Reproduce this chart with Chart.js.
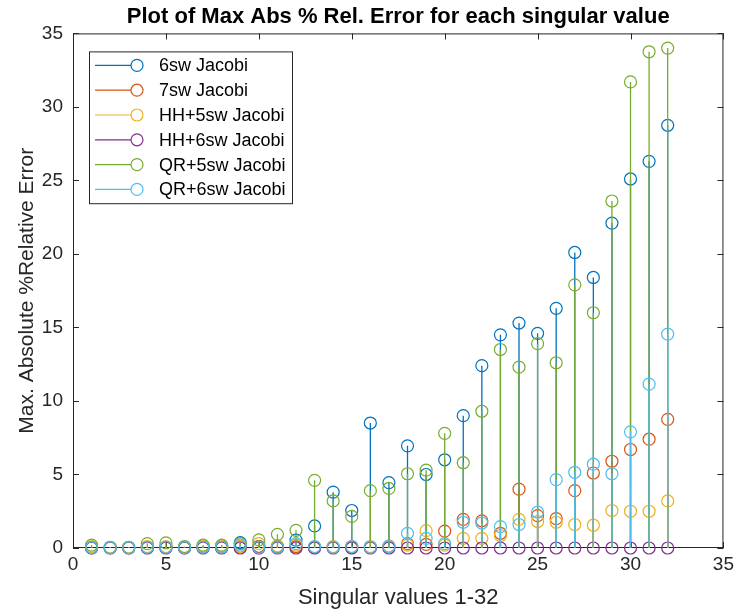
<!DOCTYPE html>
<html>
<head>
<meta charset="utf-8">
<script src="https://cdn.jsdelivr.net/npm/chart.js@4/dist/chart.umd.min.js"></script>
<style>
  body { margin: 0; background: #fff; }
</style>
</head>
<body>
<canvas id="stemChart" width="739" height="611"></canvas>
<script>
// singular value index 1..32
const singularIdx = [1, 2, 3, 4, 5, 6, 7, 8, 9, 10, 11, 12, 13, 14, 15, 16,
                     17, 18, 19, 20, 21, 22, 23, 24, 25, 26, 27, 28, 29, 30, 31, 32];

// max abs % relative error
const jacobi6sw   = [0.02, 0.02, 0.03, 0.05, 0.05, 0.03, 0.05, 0.05, 0.36, 0.1, 0.1, 0.54, 1.5, 3.8, 2.55, 8.5,
                     4.45, 6.95, 5.0, 6.0, 9.0, 12.4, 14.5, 15.3, 14.6, 16.3, 20.1, 18.4, 22.1, 25.1, 26.3, 28.75];
const jacobi7sw   = [0.02, 0.02, 0.02, 0.05, 0.05, 0.02, 0.05, 0.05, 0.1, 0.1, 0.05, 0.1, 0.05, 0.05, 0.05, 0.05,
                     0.1, 0.3, 0.25, 1.15, 1.95, 1.85, 1.0, 4.0, 2.2, 2.0, 3.9, 5.1, 5.9, 6.7, 7.4, 8.75];
const hh5swJacobi = [0.1, 0.05, 0.05, 0.1, 0.1, 0.05, 0.15, 0.15, 0.1, 0.3, 0.15, 0.2, 0.05, 0.1, 0.1, 0.1,
                     0.15, 0.2, 1.18, 0.2, 0.66, 0.66, 0.85, 1.95, 1.8, 1.75, 1.6, 1.55, 2.55, 2.5, 2.5, 3.2];
const hh6swJacobi = [0, 0, 0, 0, 0, 0, 0, 0, 0, 0, 0, 0, 0, 0, 0, 0,
                     0, 0, 0, 0, 0, 0, 0, 0, 0, 0, 0, 0, 0, 0, 0, 0];
const qr5swJacobi = [0.2, 0.05, 0.05, 0.3, 0.35, 0.1, 0.2, 0.2, 0.3, 0.55, 0.93, 1.2, 4.6, 3.2, 2.15, 3.9,
                     4.05, 5.05, 5.3, 7.8, 5.8, 9.3, 13.5, 12.3, 13.9, 12.6, 17.9, 16.0, 23.6, 31.7, 33.75, 34.0];
const qr6swJacobi = [0.02, 0.02, 0.02, 0.05, 0.05, 0.02, 0.05, 0.05, 0.2, 0.05, 0.05, 0.3, 0.1, 0.05, 0.1, 0.05,
                     0.1, 1.0, 0.65, 0.3, 1.75, 1.7, 1.45, 1.6, 2.45, 4.65, 5.15, 5.7, 5.05, 7.9, 11.15, 14.55];

const seriesNames = ['6sw Jacobi', '7sw Jacobi', 'HH+5sw Jacobi', 'HH+6sw Jacobi', 'QR+5sw Jacobi', 'QR+6sw Jacobi'];
const seriesValues = [jacobi6sw, jacobi7sw, hh5swJacobi, hh6swJacobi, qr5swJacobi, qr6swJacobi];
const seriesColors = ['#0072BD', '#D95319', '#EDB120', '#7E2F8E', '#77AC30', '#4DBEEE'];

const xTicks = [0, 5, 10, 15, 20, 25, 30, 35];
const yTicks = [0, 5, 10, 15, 20, 25, 30, 35];

const FONT = "'Liberation Sans', Arial, Helvetica, sans-serif";
const AXIS_COLOR = '#262626';

// draws the axes box + inward ticks (under the data, like matlab)
const axesBox = {
    id: 'axesBox',
    beforeDatasetsDraw(chart) {
        const { ctx, chartArea: a, scales } = chart;
        ctx.save();
        ctx.strokeStyle = AXIS_COLOR;
        ctx.lineWidth = 1;
        ctx.strokeRect(a.left + 0.5, a.top + 0.5, a.right - a.left - 1, a.bottom - a.top - 1);
        ctx.beginPath();
        xTicks.forEach(v => {
            const px = Math.round(scales.x.getPixelForValue(v)) + 0.5;
            ctx.moveTo(px, a.bottom); ctx.lineTo(px, a.bottom - 6);
            ctx.moveTo(px, a.top); ctx.lineTo(px, a.top + 6);
        });
        yTicks.forEach(v => {
            const py = Math.round(scales.y.getPixelForValue(v)) + 0.5;
            ctx.moveTo(a.left, py); ctx.lineTo(a.left + 6, py);
            ctx.moveTo(a.right, py); ctx.lineTo(a.right - 6, py);
        });
        ctx.stroke();
        ctx.restore();
    }
};

// vertical stems from 0 to each value, drawn just before that dataset's markers
const stems = {
    id: 'stems',
    beforeDatasetDraw(chart, args) {
        const { ctx, scales } = chart;
        const ds = chart.data.datasets[args.index];
        const base = scales.y.getPixelForValue(0);
        ctx.save();
        ctx.strokeStyle = ds.borderColor;
        ctx.lineWidth = 1.3;
        ctx.beginPath();
        ds.data.forEach(p => {
            const px = scales.x.getPixelForValue(p.x);
            ctx.moveTo(px, base);
            ctx.lineTo(px, scales.y.getPixelForValue(p.y));
        });
        ctx.stroke();
        ctx.restore();
    }
};

// matlab style legend box in the upper left corner
const stemLegend = {
    id: 'stemLegend',
    afterDraw(chart) {
        const { ctx, chartArea: a } = chart;
        const left = a.left + 16, top = a.top + 18;
        const w = 203, rowH = 24.8, h = rowH * seriesNames.length + 3;
        ctx.save();
        ctx.fillStyle = '#fff';
        ctx.fillRect(left, top, w, h);
        ctx.strokeStyle = AXIS_COLOR;
        ctx.lineWidth = 1;
        ctx.strokeRect(left + 0.5, top + 0.5, w, h);
        ctx.font = '18px ' + FONT;
        ctx.textBaseline = 'middle';
        seriesNames.forEach((name, i) => {
            const cy = top + 14 + i * rowH;
            ctx.strokeStyle = seriesColors[i];
            ctx.lineWidth = 1.2;
            ctx.beginPath();
            ctx.moveTo(left + 6, cy);
            ctx.lineTo(left + 42, cy);
            ctx.stroke();
            ctx.beginPath();
            ctx.arc(left + 48, cy, 6, 0, Math.PI * 2);
            ctx.stroke();
            ctx.fillStyle = '#000';
            ctx.fillText(name, left + 70, cy + 1);
        });
        ctx.restore();
    }
};

const datasets = seriesNames.map((name, i) => ({
    label: name,
    data: singularIdx.map((x, j) => ({ x: x, y: seriesValues[i][j] })),
    borderColor: seriesColors[i],
    backgroundColor: 'rgba(0,0,0,0)',
    pointRadius: 6,
    pointBorderWidth: 1.2,
    pointHoverRadius: 6,
    showLine: false,
    clip: false,
    order: seriesNames.length - i   // later series on top
}));

const ctx = document.getElementById('stemChart').getContext('2d');
new Chart(ctx, {
    type: 'scatter',
    data: { datasets: datasets },
    options: {
        responsive: false,
        animation: false,
        events: [],
        layout: { padding: { left: 0, right: 6, top: 0, bottom: 0 } },
        plugins: {
            legend: { display: false },
            tooltip: { enabled: false },
            title: {
                display: true,
                fullSize: false,   // center over the axes, not the canvas
                text: 'Plot of Max Abs % Rel. Error for each singular value',
                color: '#000',
                font: { family: FONT, size: 22, weight: 'bold' },
                padding: { top: 4, bottom: 3 }
            }
        },
        scales: {
            x: {
                type: 'linear',
                min: 0, max: 35,
                grid: { display: false, drawTicks: false },
                border: { display: false },
                ticks: { stepSize: 5, color: AXIS_COLOR, font: { family: FONT, size: 19 }, padding: 5 },
                title: { display: true, text: 'Singular values 1-32', color: AXIS_COLOR,
                         font: { family: FONT, size: 22 }, padding: { top: 2, bottom: 0 } },
                afterFit(scale) { scale.height = 63; }
            },
            y: {
                type: 'linear',
                min: 0, max: 35,
                grid: { display: false, drawTicks: false },
                border: { display: false },
                ticks: { stepSize: 5, color: AXIS_COLOR, font: { family: FONT, size: 19 }, padding: 10 },
                title: { display: true, text: 'Max. Absolute %Relative Error', color: AXIS_COLOR,
                         font: { family: FONT, size: 21 }, padding: { top: 15, bottom: 4 } },
                afterFit(scale) { scale.width = 73; }
            }
        }
    },
    plugins: [axesBox, stems, stemLegend]
});
</script>
</body>
</html>
